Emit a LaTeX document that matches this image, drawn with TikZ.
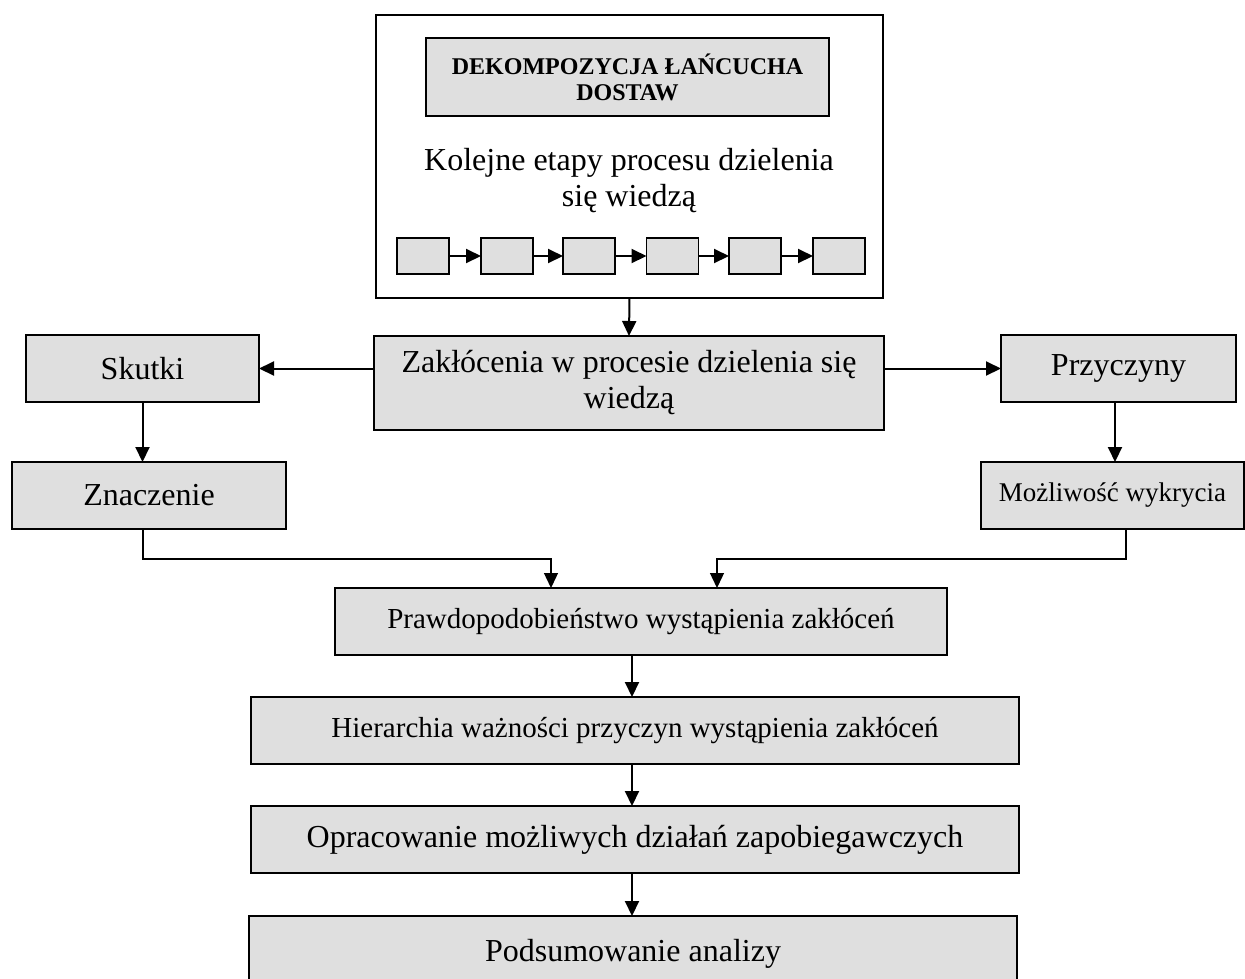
\documentclass[tikz,border=0pt]{standalone}
\usepackage{fontspec}
\setmainfont{Liberation Serif}
\usetikzlibrary{arrows.meta}
\definecolor{boxgray}{HTML}{DFDFDF}
\tikzset{
  box/.style={draw=black, fill=boxgray, line width=1.8pt, inner sep=0pt, outer sep=0pt, align=center},
  stagebox/.style={box, minimum width=52pt, minimum height=36pt},
  arr/.style={line width=2pt, -{Triangle[length=15pt,width=14pt]}},
  conn/.style={line width=1.3pt, -{Triangle[length=15pt,width=14pt]}},
  big/.style={font=\fontsize{32}{36}\selectfont},
  mid/.style={font=\fontsize{29}{33}\selectfont},
}
\begin{document}
\begin{tikzpicture}[x=1pt,y=-1pt]
\useasboundingbox (0,0) rectangle (1245,978);
\clip (0,0) rectangle (1245,978);
% top container
\node[draw=black, line width=1.8pt, inner sep=0pt, outer sep=0pt, minimum width=507pt, minimum height=283pt] (top) at (629.5,156.5) {};
\node[box, minimum width=403pt, minimum height=78pt, font=\bfseries\fontsize{24}{26}\selectfont] (title) at (627.5,77) {DEKOMPOZYCJA ŁAŃCUCHA\\DOSTAW};
\node[big, align=center, inner sep=0pt] (kolejne) at (629,181) {Kolejne etapy procesu dzielenia\\się wiedzą};
\node[stagebox] (s1) at (423,256) {};
\node[stagebox] (s2) at (507,256) {};
\node[stagebox] (s3) at (589,256) {};
\node[stagebox] (s4) at (672.5,256) {};
\node[stagebox] (s5) at (755,256) {};
\node[stagebox] (s6) at (839,256) {};
\foreach \a/\b in {s1/s2,s2/s3,s3/s4,s4/s5,s5/s6}
  \draw[arr] (\a.east) -- (\b.west);
% middle row
\node[box, big, minimum width=510pt, minimum height=94pt] (zak) at (629,383) {Zakłócenia w procesie dzielenia się\\wiedzą};
\node[box, big, minimum width=233pt, minimum height=67pt] (skutki) at (142.5,368.5) {Skutki};
\node[box, big, minimum width=235pt, minimum height=67pt] (przyczyny) at (1118.5,368.5) {Przyczyny};
\node[box, big, minimum width=274pt, minimum height=67pt] (znaczenie) at (149,495.5) {Znaczenie};
\node[box, font=\fontsize{27}{30}\selectfont, minimum width=263pt, minimum height=67pt] (mozliwosc) at (1112.5,495.5) {Możliwość wykrycia};
% lower chain
\node[box, mid, minimum width=612pt, minimum height=67pt] (prawd) at (641,621.5) {Prawdopodobieństwo wystąpienia zakłóceń};
\node[box, mid, minimum width=768pt, minimum height=67pt] (hier) at (635,730.5) {Hierarchia ważności przyczyn wystąpienia zakłóceń};
\node[box, big, minimum width=768pt, minimum height=67pt] (oprac) at (635,839.5) {Opracowanie możliwych działań zapobiegawczych};
\node[box, big, minimum width=768pt, minimum height=76pt] (podsum) at (633,954) {Podsumowanie analizy};
% connectors
\draw[arr] (top.south) -- (zak.north);
\draw[arr] (zak.west |- skutki.east) -- (skutki.east);
\draw[arr] (zak.east |- przyczyny.west) -- (przyczyny.west);
\draw[arr] (skutki.south) -- (skutki.south |- znaczenie.north);
\draw[arr] ([xshift=-3.5pt]przyczyny.south) -- ([xshift=-3.5pt]przyczyny.south |- mozliwosc.north);
\draw[conn] ([xshift=-6pt]znaczenie.south) -- ++(0,30) -| ([xshift=-90pt]prawd.north);
\draw[conn] ([xshift=13.5pt]mozliwosc.south) -- ++(0,30) -| ([xshift=76pt]prawd.north);
\draw[arr] ([xshift=-9pt]prawd.south) -- ([xshift=-3pt]hier.north);
\draw[arr] ([xshift=-3pt]hier.south) -- ([xshift=-3pt]oprac.north);
\draw[arr] ([xshift=-3pt]oprac.south) -- ([xshift=-1pt]podsum.north);
\end{tikzpicture}
\end{document}
